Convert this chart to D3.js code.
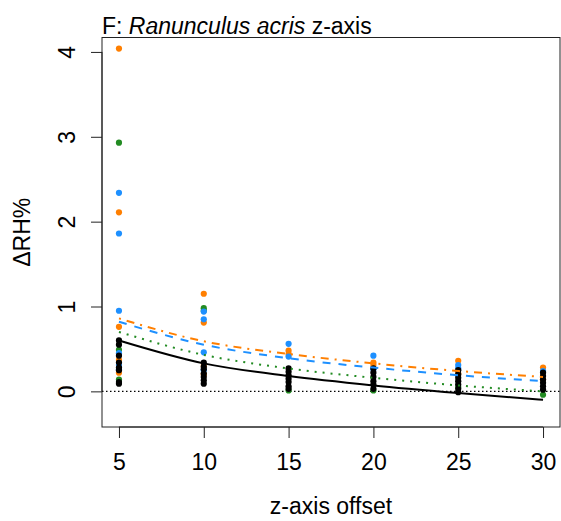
<!DOCTYPE html>
<html>
<head>
<meta charset="utf-8">
<script src="https://cdn.jsdelivr.net/npm/d3@7/dist/d3.min.js"></script>
<style>
  html, body { margin: 0; padding: 0; background: #fff; }
  svg { display: block; font-family: "Liberation Sans", Arial, sans-serif; }
</style>
</head>
<body>
<svg id="chart" width="561" height="521"></svg>
<script>
// z-axis offsets (x positions of the measurement columns)
const offsets = [5, 10, 15, 20, 25, 30];
const xTicks = [5, 10, 15, 20, 25, 30];
const yTicks = [0, 1, 2, 3, 4];

// Observed ΔRH% per offset, one list per series
const orangeObs = [
  [4.04, 2.11, 0.76, 0.37, 0.22],
  [1.15, 0.81, 0.30, 0.20],
  [0.48, 0.44],
  [0.34, 0.31],
  [0.36, 0.21],
  [0.28, 0.14]
];
const greenObs = [
  [2.93, 0.49, 0.14],
  [0.98, 0.95],
  [0.01],
  [0.01],
  [0.05],
  [-0.04]
];
const blueObs = [
  [2.34, 1.86, 0.95, 0.45, 0.31, 0.26],
  [0.94, 0.85, 0.46, 0.25],
  [0.56, 0.41],
  [0.42, 0.26],
  [0.31, 0.27],
  [0.24]
];
const blackObs = [
  [0.60, 0.55, 0.42, 0.34, 0.28, 0.25, 0.11, 0.09],
  [0.34, 0.29, 0.26, 0.21, 0.17, 0.13, 0.09],
  [0.27, 0.23, 0.19, 0.15, 0.11, 0.06, 0.03],
  [0.27, 0.22, 0.17, 0.12, 0.08, 0.03],
  [0.25, 0.20, 0.16, 0.12, 0.08, 0.03, -0.01],
  [0.22, 0.18, 0.14, 0.10, 0.06, 0.02]
];

// Fitted trend values at each offset
const orangeFit = [0.86, 0.59, 0.44, 0.33, 0.24, 0.17];
const blueFit   = [0.82, 0.55, 0.39, 0.28, 0.19, 0.12];
const greenFit  = [0.70, 0.43, 0.27, 0.16, 0.07, 0.00];
const blackFit  = [0.60, 0.33, 0.18, 0.07, -0.02, -0.10];

const colors = { orange: "#FF7F00", green: "#228B22", blue: "#1E90FF", black: "#000000" };

const svg = d3.select("#chart");
const plotLeft = 102, plotRight = 560, plotTop = 37.5, plotBottom = 427;

const x = d3.scaleLinear().domain([4, 31]).range([plotLeft, plotRight]);
const y = d3.scaleLinear().domain([-0.42, 4.17]).range([plotBottom, plotTop]);

const FS = 23;

// Title
const title = svg.append("text")
  .attr("x", plotLeft).attr("y", 34)
  .attr("font-size", 23).attr("fill", "#000");
title.append("tspan").text("F: ");
title.append("tspan").attr("font-style", "italic").text("Ranunculus acris");
title.append("tspan").text(" z-axis");

// Zero reference line
svg.append("line")
  .attr("x1", plotLeft).attr("x2", plotRight)
  .attr("y1", y(0)).attr("y2", y(0))
  .attr("stroke", "#000").attr("stroke-width", 1.3)
  .attr("stroke-dasharray", "1.5,2.5");

// Points
const pts = [];
function addPts(obs, col) {
  obs.forEach((vals, i) => vals.forEach(v => pts.push({ x: offsets[i], v, col })));
}
addPts(orangeObs, colors.orange);
addPts(greenObs, colors.green);
addPts(blueObs, colors.blue);
addPts(blackObs, colors.black);

svg.append("g").selectAll("circle").data(pts).join("circle")
  .attr("cx", d => x(d.x)).attr("cy", d => y(d.v))
  .attr("r", 3.1).attr("fill", d => d.col);

// Trend lines
const line = d3.line()
  .x((d, i) => x(offsets[i]))
  .y(d => y(d))
  .curve(d3.curveMonotoneX);

const fits = [
  { vals: greenFit,  col: colors.green,  dash: "2,6" },
  { vals: blackFit,  col: colors.black,  dash: null },
  { vals: blueFit,   col: colors.blue,   dash: "8,8" },
  { vals: orangeFit, col: colors.orange, dash: "2,6,8,6" }
];
fits.forEach(f => {
  svg.append("path")
    .attr("d", line(f.vals))
    .attr("fill", "none")
    .attr("stroke", f.col)
    .attr("stroke-width", 2)
    .attr("stroke-dasharray", f.dash);
});

// Plot box
svg.append("rect")
  .attr("x", plotLeft).attr("y", plotTop)
  .attr("width", plotRight - plotLeft).attr("height", plotBottom - plotTop)
  .attr("fill", "none").attr("stroke", "#222").attr("stroke-width", 1);

// X axis
const xAxis = svg.append("g")
  .attr("transform", `translate(0,${plotBottom})`)
  .call(d3.axisBottom(x).tickValues(xTicks).tickSize(11).tickPadding(0).tickFormat(d3.format("d")));
xAxis.select(".domain").attr("stroke", "#222").attr("d", `M${x(5)},0H${x(30)}`);
xAxis.selectAll(".tick line").attr("stroke", "#222");
xAxis.selectAll(".tick text")
  .attr("y", 43).attr("dy", null)
  .attr("font-size", FS).attr("font-family", "Liberation Sans, Arial, sans-serif").attr("fill", "#000");

// Y axis
const yAxis = svg.append("g")
  .attr("transform", `translate(${plotLeft},0)`)
  .call(d3.axisLeft(y).tickValues(yTicks).tickSize(11).tickFormat(d3.format("d")));
yAxis.select(".domain").attr("stroke", "#222").attr("d", `M0,${y(0)}V${y(4)}`);
yAxis.selectAll(".tick line").attr("stroke", "#222");
yAxis.selectAll(".tick text")
  .attr("x", null).attr("dy", null)
  .attr("text-anchor", "middle")
  .attr("transform", "translate(-27,0) rotate(-90)")
  .attr("font-size", FS).attr("font-family", "Liberation Sans, Arial, sans-serif").attr("fill", "#000");

// Axis titles
svg.append("text")
  .attr("x", (plotLeft + plotRight) / 2).attr("y", 514)
  .attr("text-anchor", "middle").attr("font-size", FS)
  .text("z-axis offset");

svg.append("text")
  .attr("transform", `translate(30,${(plotTop + plotBottom) / 2}) rotate(-90)`)
  .attr("text-anchor", "middle").attr("font-size", FS)
  .text("ΔRH%");
</script>
</body>
</html>
